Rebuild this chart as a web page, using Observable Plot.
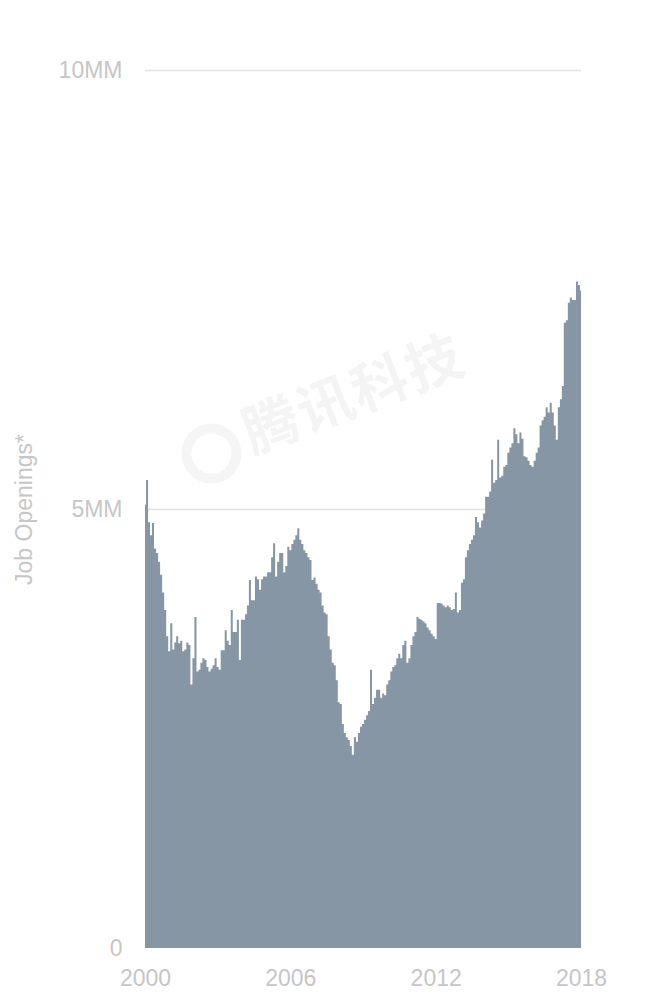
<!DOCTYPE html>
<html><head><meta charset="utf-8">
<script src="https://cdn.jsdelivr.net/npm/d3@7"></script>
<script src="https://cdn.jsdelivr.net/npm/@observablehq/plot@0.6"></script>
<style>
html,body{margin:0;padding:0;background:#fff;}
#chart{position:relative;width:645px;height:993px;overflow:hidden;}
#wm{position:absolute;left:180px;top:415px;transform-origin:0 50%;transform:rotate(-21deg);
  font-family:"Noto Sans CJK SC",sans-serif;font-weight:700;font-size:56px;color:rgba(0,0,0,0.045);white-space:nowrap;letter-spacing:2px;}
#wm .logo{display:inline-block;width:60px;height:60px;border-radius:50%;border:10px solid rgba(0,0,0,0.04);box-sizing:border-box;vertical-align:middle;margin-right:8px;}
</style></head><body>
<div id="chart"></div>
<script>
// Monthly job openings (millions), Dec 2000 onward
const startYear = 2000, startMonth = 11;
const openings = [
5.05,5.33,4.85,4.70,4.84,4.55,4.50,4.40,4.25,4.05,3.85,3.55,3.38,3.70,3.40,3.48,3.55,3.47,3.50,3.38,
3.40,3.48,3.45,3.00,3.30,3.77,3.15,3.17,3.25,3.30,3.28,3.20,3.15,3.18,3.22,3.30,3.20,3.17,3.39,3.39,
3.62,3.50,3.45,3.85,3.60,3.60,3.74,3.28,3.74,3.74,3.80,3.90,4.19,3.96,3.96,4.23,4.20,4.08,4.20,4.23,
4.23,4.28,4.28,4.45,4.61,4.23,4.40,4.50,4.50,4.28,4.35,4.57,4.53,4.60,4.65,4.70,4.78,4.65,4.60,4.53,
4.50,4.45,4.42,4.19,4.22,4.15,4.08,4.05,3.90,3.82,3.80,3.55,3.40,3.25,3.22,3.05,2.80,2.78,2.55,2.45,
2.40,2.37,2.30,2.20,2.40,2.35,2.45,2.52,2.55,2.60,2.65,2.70,3.17,2.78,2.85,2.94,2.94,2.85,2.90,2.88,
3.00,3.05,3.15,3.20,3.22,3.30,3.35,3.30,3.45,3.50,3.25,3.30,3.45,3.55,3.60,3.77,3.75,3.74,3.72,3.70,
3.65,3.62,3.58,3.55,3.52,3.93,3.93,3.92,3.90,3.88,3.90,3.88,3.85,3.86,4.05,3.82,3.85,4.16,4.20,4.45,
4.53,4.60,4.65,4.70,4.91,4.85,4.79,4.87,4.95,5.14,5.14,5.20,5.56,5.30,5.33,5.79,5.36,5.38,5.48,5.50,
5.64,5.70,5.75,5.92,5.85,5.75,5.87,5.80,5.60,5.59,5.55,5.50,5.48,5.55,5.64,5.70,5.95,6.01,6.05,6.16,
6.10,6.21,6.10,5.95,5.79,6.16,6.25,6.40,7.12,7.15,7.35,7.41,7.38,7.38,7.59,7.55,7.49
];
const yTicks = [0, 5, 10];
const yTickLabels = ["0", "5MM", "10MM"];
const xTickYears = [2000, 2006, 2012, 2018];

const data = openings.map((v, i) => ({date: new Date(Date.UTC(startYear, startMonth + i, 1)), value: v}));
const xTicks = xTickYears.map(y => new Date(Date.UTC(y, 11, 1)));

const chart = Plot.plot({
  width: 645, height: 993,
  marginTop: 70, marginBottom: 45, marginLeft: 145, marginRight: 64,
  style: {fontFamily: "'Liberation Sans', Arial, sans-serif", fontSize: "23px", color: "#c6c6c6", background: "transparent"},
  x: {type: "utc", domain: [xTicks[0], xTicks[xTicks.length - 1]], ticks: xTicks,
      tickFormat: d => String(d.getUTCFullYear()), tickSize: 0, tickPadding: 21, label: null},
  y: {domain: [0, 10], ticks: yTicks, tickFormat: d => yTickLabels[yTicks.indexOf(d)],
      tickSize: 0, tickPadding: 23, label: "Job Openings*", labelAnchor: "center", labelArrow: "none", labelOffset: 130},
  marks: [
    Plot.ruleY(yTicks.filter(d => d > 0), {stroke: "#e2e2e2", strokeWidth: 1.5}),
    Plot.areaY(data, {x: "date", y: "value", fill: "#8796a4", curve: "step"})
  ]
});
document.getElementById("chart").appendChild(chart);
const wm = document.createElement("div");
wm.id = "wm";
wm.innerHTML = '<span class="logo"></span>腾讯科技';
document.getElementById("chart").appendChild(wm);
</script>
</body></html>
